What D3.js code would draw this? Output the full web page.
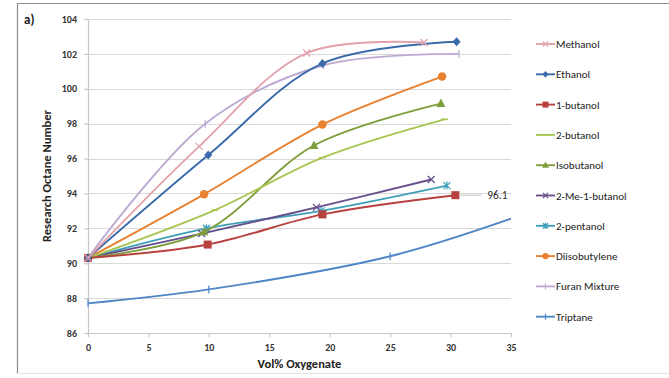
<!DOCTYPE html>
<html><head><meta charset="utf-8">
<script src="https://cdn.jsdelivr.net/npm/d3@7"></script>
<style>body{margin:0;background:#fff;}svg{display:block;font-family:Calibri,Carlito,"Liberation Sans",Arial,sans-serif;}</style>
</head><body><svg id="c" width="669" height="378"></svg>
<script>
const seriesNames = ["Methanol","Ethanol","1-butanol","2-butanol","Isobutanol","2-Me-1-butanol","2-pentanol","Diisobutylene","Furan Mixture","Triptane"];
const seriesColors = ["#E3A3AC","#3B6BAA","#B7413E","#A8C651","#7E9E3C","#66508C","#3FA1B8","#E8802F","#BCAAD3","#4F86C6"];
const seriesMarkers = ["x","diamond","square","dash","triangle","x","star","circle","plus","plus"];
const methanolX = [0, 9.2, 18.1, 27.8];
const methanolY = [90.3, 96.7, 102.05, 102.65];
const ethanolX = [0, 9.95, 19.4, 30.5];
const ethanolY = [90.3, 96.2, 101.45, 102.7];
const butanol1X = [0, 9.9, 19.4, 30.4];
const butanol1Y = [90.3, 91.07, 92.8, 93.9];
const butanol2X = [0, 10.5, 19.4, 29.5];
const butanol2Y = [90.3, 93.05, 96.05, 98.25];
const isobutanolX = [0, 9.6, 18.7, 29.2];
const isobutanolY = [90.3, 91.8, 96.75, 99.15];
const me1butanolX = [0, 9.4, 18.9, 28.4];
const me1butanolY = [90.3, 91.7, 93.2, 94.8];
const pentanol2X = [0, 9.8, 19.3, 29.7];
const pentanol2Y = [90.3, 92.0, 93.0, 94.45];
const diisobutyleneX = [0, 9.6, 19.4, 29.3];
const diisobutyleneY = [90.3, 93.95, 97.95, 100.7];
const furanX = [0, 9.7, 19.5, 30.7];
const furanY = [90.3, 98.0, 101.35, 102.0];
const triptaneX = [0, 10, 25, 35];
const triptaneY = [87.7, 88.5, 90.4, 92.55];
const xTicks = [0,5,10,15,20,25,30,35];
const yTicks = [86,88,90,92,94,96,98,100,102,104];
const labelText = "96.1";

const allX = [methanolX,ethanolX,butanol1X,butanol2X,isobutanolX,me1butanolX,pentanol2X,diisobutyleneX,furanX,triptaneX];
const allY = [methanolY,ethanolY,butanol1Y,butanol2Y,isobutanolY,me1butanolY,pentanol2Y,diisobutyleneY,furanY,triptaneY];
const series = seriesNames.map((n,i)=>({name:n,color:seriesColors[i],marker:seriesMarkers[i],
  pts:allX[i].map((x,j)=>({x:x,y:allY[i][j]}))}));

const svg = d3.select("#c");
const L=88,R=511,T=19,B=333;
const x = d3.scaleLinear().domain([0,35]).range([L,R]);
const y = d3.scaleLinear().domain([86,104]).range([B,T]);

// outer frame
svg.append("line").attr("x1",17).attr("x2",669).attr("y1",3.5).attr("y2",3.5).attr("stroke","#8a8a8a").attr("stroke-width",1.2);
svg.append("line").attr("x1",17.5).attr("x2",17.5).attr("y1",3).attr("y2",374).attr("stroke","#8a8a8a").attr("stroke-width",1.2);
svg.append("line").attr("x1",17).attr("x2",669).attr("y1",373.5).attr("y2",373.5).attr("stroke","#e4e4e4").attr("stroke-width",1);

svg.append("text").attr("x",24).attr("y",24).attr("font-weight","bold").attr("font-size",13).attr("fill","#222").text("a)");

// grid
svg.append("g").selectAll("line").data(yTicks.filter(t=>t!==86)).join("line")
  .attr("x1",L).attr("x2",R).attr("y1",d=>Math.round(y(d))+0.5).attr("y2",d=>Math.round(y(d))+0.5)
  .attr("stroke","#d9d9d9").attr("stroke-width",1.2);

// axes
const xAxis = svg.append("g").attr("transform",`translate(0,${B})`)
  .call(d3.axisBottom(x).tickValues(xTicks).tickSize(4).tickSizeOuter(0));
const yAxis = svg.append("g").attr("transform",`translate(${L},0)`)
  .call(d3.axisLeft(y).tickValues(yTicks).tickSize(4).tickSizeOuter(0));
[xAxis,yAxis].forEach(a=>{
  a.selectAll("path,line").attr("stroke","#c8c8c8").attr("stroke-width",1.2);
  a.selectAll("text").attr("font-size",10).attr("fill","#333").attr("font-weight","bold").style("font-family","Calibri,Carlito,'Liberation Sans',sans-serif");
});
xAxis.selectAll("text").attr("dy","1.05em");
yAxis.selectAll("text").attr("dx","-4").attr("dy","0.32em");

svg.append("text").attr("x",(L+R)/2).attr("y",368).attr("text-anchor","middle")
  .attr("font-weight","bold").attr("font-size",12.5).attr("fill","#222").text("Vol% Oxygenate");
svg.append("text").attr("transform",`translate(51,${(T+B)/2}) rotate(-90)`).attr("text-anchor","middle")
  .attr("font-weight","bold").attr("font-size",12.5).attr("fill","#222").text("Research Octane Number");

function drawMarker(g,type,cx,cy,color,s){
  s = s||1;
  if(type==="diamond"){g.append("path").attr("d",`M${cx},${cy-4.5*s}L${cx+4*s},${cy}L${cx},${cy+4.5*s}L${cx-4*s},${cy}Z`).attr("fill",color);}
  else if(type==="square"){g.append("rect").attr("x",cx-4*s).attr("y",cy-4*s).attr("width",8*s).attr("height",8*s).attr("fill",color);}
  else if(type==="circle"){g.append("circle").attr("cx",cx).attr("cy",cy).attr("r",4.2*s).attr("fill",color);}
  else if(type==="triangle"){g.append("path").attr("d",`M${cx},${cy-5*s}L${cx+4.5*s},${cy+3.5*s}L${cx-4.5*s},${cy+3.5*s}Z`).attr("fill",color);}
  else if(type==="x"){g.append("path").attr("d",`M${cx-3.5*s},${cy-3.5*s}L${cx+3.5*s},${cy+3.5*s}M${cx+3.5*s},${cy-3.5*s}L${cx-3.5*s},${cy+3.5*s}`).attr("stroke",color).attr("stroke-width",1.3).attr("fill","none");}
  else if(type==="star"){g.append("path").attr("d",`M${cx-3.5*s},${cy-3.5*s}L${cx+3.5*s},${cy+3.5*s}M${cx+3.5*s},${cy-3.5*s}L${cx-3.5*s},${cy+3.5*s}M${cx},${cy-4*s}L${cx},${cy+4*s}`).attr("stroke",color).attr("stroke-width",1.3).attr("fill","none");}
  else if(type==="plus"){g.append("path").attr("d",`M${cx},${cy-4*s}L${cx},${cy+4*s}`).attr("stroke",color).attr("stroke-width",1.2).attr("fill","none");}
  else if(type==="dash"){g.append("path").attr("d",`M${cx-3.5*s},${cy}L${cx+3.5*s},${cy}`).attr("stroke",color).attr("stroke-width",1.6).attr("fill","none");}
}

const line = d3.line().x(d=>x(d.x)).y(d=>y(d.y)).curve(d3.curveCatmullRom.alpha(0.5));
const clip = svg.append("clipPath").attr("id","pc").append("rect").attr("x",L-6).attr("y",T-6).attr("width",R-L+6).attr("height",B-T+12);
const plot = svg.append("g");
// draw in reverse so Methanol ends on top similar to Excel order
series.slice().reverse().forEach(s=>{
  const g = plot.append("g");
  g.append("path").attr("d",line(s.pts)).attr("fill","none").attr("stroke",s.color).attr("stroke-width",1.9).attr("clip-path","url(#pc)");
  s.pts.forEach(p=>{ if(p.x<35) drawMarker(g,s.marker,x(p.x),y(p.y),s.color,1); });
});

// data label
const lb = series[2].pts[3];
svg.append("line").attr("x1",x(lb.x)+5).attr("x2",x(lb.x)+26).attr("y1",y(lb.y)).attr("y2",y(lb.y)).attr("stroke","#bfbfbf").attr("stroke-width",1);
svg.append("text").attr("x",x(lb.x)+42).attr("y",y(lb.y)+4).attr("text-anchor","middle").attr("font-size",11.5).attr("fill","#333").text(labelText);

// legend
const leg = svg.append("g");
series.forEach((s,i)=>{
  const ly = 44 + i*30.3;
  leg.append("line").attr("x1",536).attr("x2",555).attr("y1",ly).attr("y2",ly).attr("stroke",s.color).attr("stroke-width",1.9);
  drawMarker(leg,s.marker,545.5,ly,s.color,0.75);
  leg.append("text").attr("x",556).attr("y",ly+4).attr("font-size",11).attr("fill","#222").text(s.name);
});
</script></body></html>
